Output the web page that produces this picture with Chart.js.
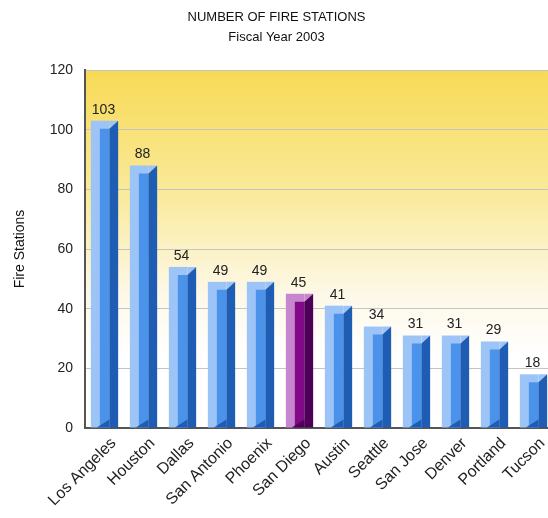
<!DOCTYPE html>
<html>
<head>
<meta charset="utf-8">
<script src="https://cdn.jsdelivr.net/npm/chart.js@4"></script>
<style>
  html, body { margin: 0; padding: 0; background: #fff; overflow: hidden; }
  #wrap { width: 548px; height: 518px; overflow: hidden; }
</style>
</head>
<body>
<div id="wrap"><canvas id="chart" width="576" height="518"></canvas></div>
<script>
const cities = ['Los Angeles', 'Houston', 'Dallas', 'San Antonio', 'Phoenix', 'San Diego',
                'Austin', 'Seattle', 'San Jose', 'Denver', 'Portland', 'Tucson'];
const stations = [103, 88, 54, 49, 49, 45, 41, 34, 31, 31, 29, 18];
const highlight = 'San Diego';
const titleLines = ['NUMBER OF FIRE STATIONS', 'Fiscal Year 2003'];

const FONT = "'Liberation Sans', Arial, sans-serif";
const blue = { light: '#9cc4f6', mid: '#4a92ea', dark: '#1f5cb3' };
const purple = { light: '#c687cf', mid: '#820a86', dark: '#4e0058' };

// yellow wash behind the plot
const plotBackground = {
    id: 'plotBackground',
    beforeDraw(chart) {
        const { ctx, chartArea: a } = chart;
        const g = ctx.createLinearGradient(0, a.top, 0, a.bottom);
        g.addColorStop(0, '#f7da55');
        g.addColorStop(0.35, '#faea9c');
        g.addColorStop(0.62, '#fdf8e6');
        g.addColorStop(0.8, '#ffffff');
        ctx.save();
        ctx.fillStyle = g;
        ctx.fillRect(a.left, a.top, a.right - a.left, a.bottom - a.top);
        ctx.restore();
    }
};

// draws the 3d looking bars and the value labels from the bar elements
const bars3d = {
    id: 'bars3d',
    afterDatasetsDraw(chart) {
        const ctx = chart.ctx;
        const meta = chart.getDatasetMeta(0);
        ctx.save();
        meta.data.forEach((bar, i) => {
            const c = cities[i] === highlight ? purple : blue;
            const w = bar.width;
            const L = bar.x - w / 2;
            const top = bar.y;
            const base = bar.base;
            const s1 = L + w * 0.33;
            const s2 = L + w * 0.68;
            const R = L + w;
            const bev = 8;

            ctx.fillStyle = c.light;
            ctx.fillRect(L, top, s2 - L, base - top);
            ctx.beginPath();
            ctx.moveTo(s2, top); ctx.lineTo(R, top); ctx.lineTo(s2, top + bev);
            ctx.closePath(); ctx.fill();

            ctx.fillStyle = c.mid;
            ctx.beginPath();
            ctx.moveTo(s1, top + bev); ctx.lineTo(s2, top + bev);
            ctx.lineTo(s2, base); ctx.lineTo(s1, base);
            ctx.closePath(); ctx.fill();

            ctx.fillStyle = c.dark;
            ctx.beginPath();
            ctx.moveTo(s2, top + bev); ctx.lineTo(R, top);
            ctx.lineTo(R, base); ctx.lineTo(s2, base);
            ctx.closePath(); ctx.fill();
            // bottom shadow wedge
            ctx.beginPath();
            ctx.moveTo(s1 - 3, base); ctx.lineTo(s2, base - bev); ctx.lineTo(s2, base);
            ctx.closePath(); ctx.fill();

            ctx.fillStyle = '#222';
            ctx.font = '14px ' + FONT;
            ctx.textAlign = 'center';
            ctx.textBaseline = 'bottom';
            ctx.fillText(stations[i], bar.x - 1, top - 4);
        });
        ctx.restore();
    }
};

new Chart(document.getElementById('chart'), {
    type: 'bar',
    data: {
        labels: cities,
        datasets: [{
            data: stations,
            backgroundColor: 'rgba(0,0,0,0)',
            borderWidth: 0,
            barPercentage: 0.7,
            categoryPercentage: 1
        }]
    },
    options: {
        responsive: false,
        animation: false,
        layout: { padding: { top: 6, right: 23, left: 0, bottom: 0 } },
        plugins: {
            legend: { display: false },
            tooltip: { enabled: false },
            title: {
                display: true,
                text: titleLines,
                color: '#111',
                font: { family: FONT, size: 13, weight: 'normal', lineHeight: 1.5 },
                padding: { top: 2, bottom: 23 }
            }
        },
        scales: {
            x: {
                grid: { display: false, drawTicks: false },
                border: { color: '#555', width: 2 },
                ticks: {
                    color: '#222',
                    font: { family: FONT, size: 16 },
                    minRotation: 45,
                    maxRotation: 45,
                    autoSkip: false,
                    labelOffset: 9,
                    padding: 6
                },
                afterFit(scale) { scale.height = 90; }
            },
            y: {
                min: 0,
                max: 120,
                ticks: {
                    stepSize: 20,
                    color: '#222',
                    font: { family: FONT, size: 14 },
                    padding: 12
                },
                grid: { color: '#c4c4c4', lineWidth: 1, drawTicks: false },
                border: { color: '#555', width: 2 },
                title: {
                    display: true,
                    text: 'Fire Stations',
                    color: '#111',
                    font: { family: FONT, size: 14 },
                    padding: { top: 12, bottom: 0 }
                },
                afterFit(scale) { scale.width = 85; }
            }
        }
    },
    plugins: [plotBackground, bars3d]
});
</script>
</body>
</html>
